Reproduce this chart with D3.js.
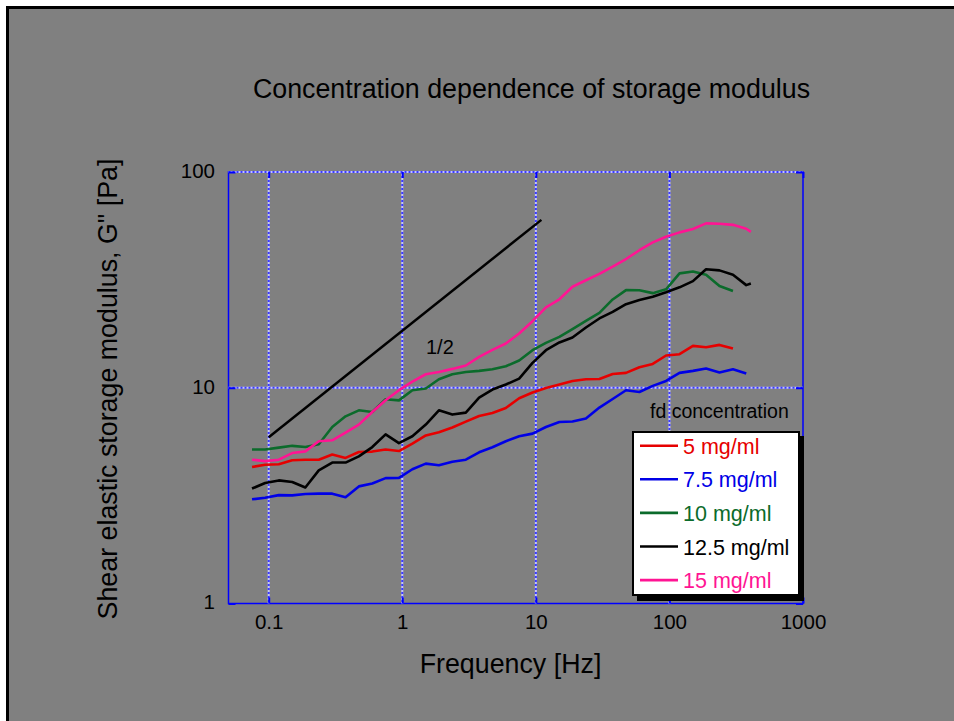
<!DOCTYPE html>
<html><head><meta charset="utf-8">
<script src="https://cdn.jsdelivr.net/npm/d3@7"></script>
<style>
body{margin:0;background:#fff}
svg{display:block}
text{font-family:"Liberation Sans",Arial,Helvetica,sans-serif}
</style>
</head><body>
<svg id="chart" width="954" height="721"></svg>
<script>
// ---- data ----
const freq = [0.075,0.094,0.119,0.150,0.188,0.237,0.299,0.376,0.473,0.596,0.750,0.944,1.19,1.50,1.88,2.37,2.99,3.76,4.73,5.96,7.50,9.44,11.9,15.0,18.8,23.7,29.9,37.6,47.3,59.6,75.0,94.4,119,150,188,237,299,376,407];
const g5mg   = [4.29,4.40,4.42,4.61,4.64,4.64,4.90,4.73,5.04,5.06,5.17,5.09,5.51,6.01,6.22,6.54,6.97,7.40,7.64,8.06,8.94,9.50,9.98,10.35,10.75,10.95,10.98,11.59,11.72,12.45,12.90,14.11,14.31,15.63,15.41,15.80,15.20];
const g7_5mg = [3.04,3.09,3.18,3.17,3.22,3.23,3.23,3.11,3.49,3.60,3.81,3.82,4.19,4.45,4.37,4.54,4.64,5.02,5.30,5.65,5.96,6.13,6.58,6.94,6.97,7.20,8.09,8.87,9.74,9.56,10.2,10.75,11.72,11.97,12.28,11.77,12.18,11.64];
const g10mg  = [5.17,5.17,5.28,5.38,5.31,5.47,6.58,7.37,7.86,7.72,8.84,8.74,9.74,9.92,10.95,11.55,11.84,11.97,12.18,12.58,13.37,14.93,16.14,17.21,18.69,20.42,22.24,25.66,28.35,28.3,27.45,28.6,33.9,34.6,33.4,29.6,28.1];
const g12_5mg= [3.41,3.62,3.72,3.66,3.45,4.14,4.50,4.50,4.81,5.31,6.08,5.54,5.96,6.75,7.86,7.51,7.67,9.01,9.81,10.35,11.03,13.04,14.93,16.21,17.1,19.02,20.95,22.48,24.4,25.5,26.4,27.7,29.2,31.2,35.4,35.0,33.4,29.9,30.4];
const g15mg  = [4.64,4.57,4.64,4.98,5.07,5.65,5.71,6.20,6.75,7.72,8.75,9.74,10.68,11.55,11.84,12.23,12.68,13.9,14.98,16.04,17.84,20.35,23.56,25.7,29.4,31.5,33.7,36.4,39.5,43.4,47.2,50.1,52.5,54.4,57.8,57.6,56.9,54.6,52.8];
const seriesNames  = ["5 mg/ml","7.5 mg/ml","10 mg/ml","12.5 mg/ml","15 mg/ml"];
const seriesValues = [g5mg, g7_5mg, g10mg, g12_5mg, g15mg];
const seriesColors = ["#e60000","#0000e6","#0b6b2b","#000000","#ff1493"];
const slopeFreq = [0.1, 11];
const slopeG    = [5.9, 60];
const xTickValues = [0.1,1,10,100,1000];
const yTickValues = [1,10,100];
const xGridValues = [0.1,1,10,100];
const yGridValues = [10,100];

// ---- layout ----
const svg = d3.select("#chart");
const L = 228.5, R = 803, T = 172, B = 603.5;
const x = d3.scaleLog().domain([0.05,1000]).range([L,R]);
const y = d3.scaleLog().domain([1,100]).range([B,T]);

// outer frame
svg.append("rect").attr("x",7.5).attr("y",7.5).attr("width",960).attr("height",730)
  .attr("fill","#808080").attr("stroke","#000").attr("stroke-width",3);

// title
svg.append("text").attr("x",531.5).attr("y",98).attr("text-anchor","middle")
  .attr("font-size",26.8).attr("fill","#000").text("Concentration dependence of storage modulus");

// plot border
svg.append("rect").attr("x",L).attr("y",T).attr("width",R-L).attr("height",B-T)
  .attr("fill","none").attr("stroke","#0000ff").attr("stroke-width",1.5);

// grid lines (dotted blue/light blue)
const grid = svg.append("g");
function gridLine(x1,y1,x2,y2){
  grid.append("line").attr("x1",x1).attr("y1",y1).attr("x2",x2).attr("y2",y2)
    .attr("stroke","#c4c4ff").attr("stroke-width",2);
  grid.append("line").attr("x1",x1).attr("y1",y1).attr("x2",x2).attr("y2",y2)
    .attr("stroke","#3a3aff").attr("stroke-width",2).attr("stroke-dasharray","2,2");
}
xGridValues.forEach(v=>gridLine(x(v),T,x(v),B));
yGridValues.forEach(v=>gridLine(L,y(v),R,y(v)));

// axes
const fmt = d=>String(d);
const axB = svg.append("g").attr("transform",`translate(0,${B})`)
  .call(d3.axisBottom(x).tickValues(xTickValues).tickFormat(fmt).tickSizeInner(-6).tickSizeOuter(0).tickPadding(10.5));
const axT = svg.append("g").attr("transform",`translate(0,${T})`)
  .call(d3.axisTop(x).tickValues(xTickValues).tickFormat("").tickSizeInner(-6).tickSizeOuter(0));
const axLft = svg.append("g").attr("transform",`translate(${L},0)`)
  .call(d3.axisLeft(y).tickValues(yTickValues).tickFormat(fmt).tickSizeInner(-7).tickSizeOuter(0).tickPadding(13.5));
const axRt = svg.append("g").attr("transform",`translate(${R},0)`)
  .call(d3.axisRight(y).tickValues(yTickValues).tickFormat("").tickSizeInner(-7).tickSizeOuter(0));
[axB,axT,axLft,axRt].forEach(a=>{
  a.select(".domain").remove();
  a.selectAll(".tick line").attr("stroke","#0000ff").attr("stroke-width",2);
  a.selectAll(".tick text").attr("font-size",20.5).attr("fill","#000")
    .attr("font-family",'"Liberation Sans",Arial,sans-serif');
});
axLft.selectAll(".tick text").attr("dy","0.26em");

// axis titles
svg.append("text").attr("x",510.5).attr("y",673).attr("text-anchor","middle")
  .attr("font-size",26.8).attr("fill","#000").text("Frequency [Hz]");
svg.append("text").attr("transform","translate(117,389) rotate(-90)").attr("text-anchor","middle")
  .attr("font-size",26.8).attr("fill","#000").text("Shear elastic storage modulus, G\" [Pa]");

// slope 1/2 line
const line = d3.line().x(d=>x(d[0])).y(d=>y(d[1]));
svg.append("path").datum(slopeFreq.map((f,i)=>[f,slopeG[i]]))
  .attr("d",line).attr("fill","none").attr("stroke","#000").attr("stroke-width",2.5);
svg.append("text").attr("x",426).attr("y",354).attr("font-size",20).attr("fill","#000").text("1/2");

// data series
seriesValues.forEach((vals,i)=>{
  svg.append("path").datum(vals.map((v,j)=>[freq[j],v]))
    .attr("d",line).attr("fill","none").attr("stroke",seriesColors[i])
    .attr("stroke-width",2.6).attr("stroke-linejoin","round");
});

// legend
svg.append("text").attr("x",650).attr("y",418).attr("font-size",19.5).attr("fill","#000").text("fd concentration");
const lg = svg.append("g");
lg.append("rect").attr("x",637).attr("y",436).attr("width",167).attr("height",165).attr("fill","#000");
lg.append("rect").attr("x",633).attr("y",432).attr("width",166).attr("height",163)
  .attr("fill","#fff").attr("stroke","#000").attr("stroke-width",2);
seriesNames.forEach((n,i)=>{
  const cy = 445.7 + i*33.6;
  lg.append("line").attr("x1",640).attr("x2",678).attr("y1",cy).attr("y2",cy)
    .attr("stroke",seriesColors[i]).attr("stroke-width",2.6);
  lg.append("text").attr("x",683).attr("y",cy+8).attr("font-size",21.5)
    .attr("fill",seriesColors[i]).text(n);
});
</script>
</body></html>
